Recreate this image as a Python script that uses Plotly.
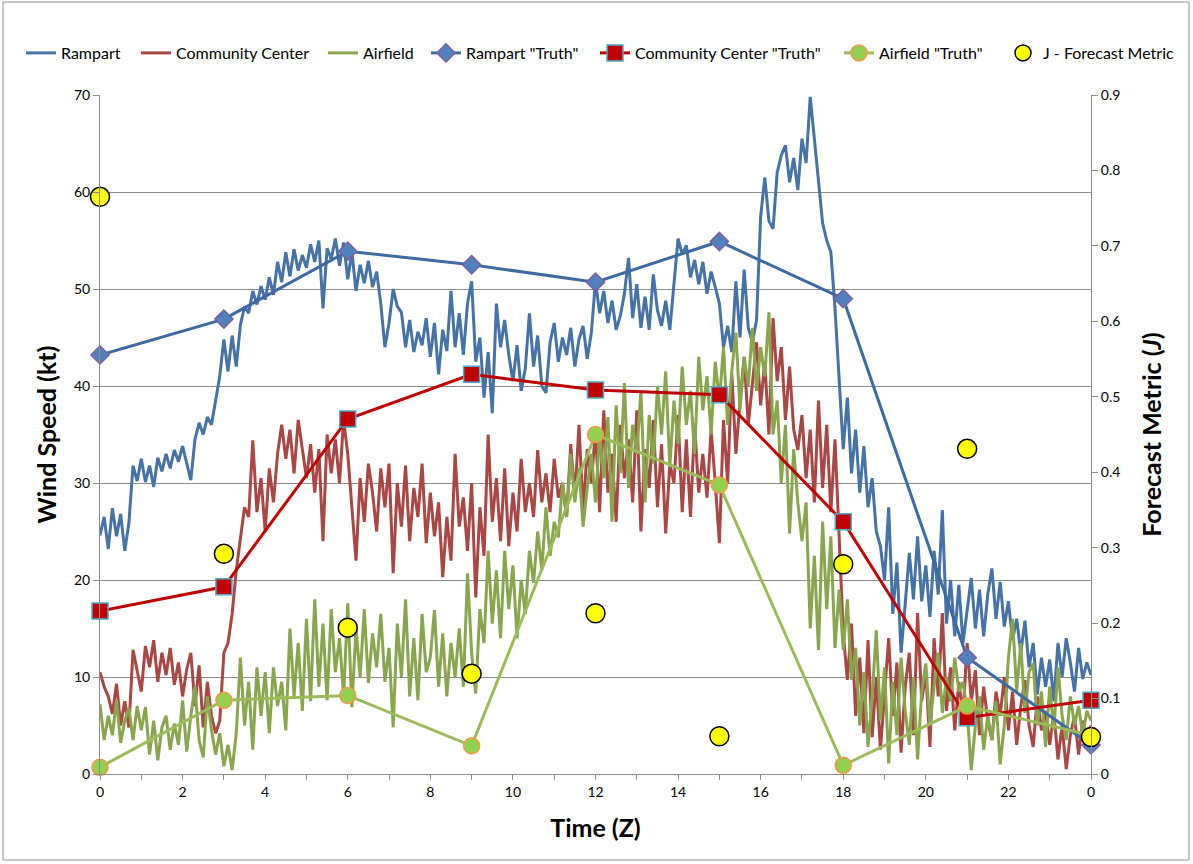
import numpy as np
import plotly.graph_objects as go

# ---------------- data ----------------
# high-frequency observations, one value every 0.1 h from 0 to 24 Z
rampart = [
    24.6, 26.5, 23.2, 27.4, 24.5, 26.8, 23.0, 25.9, 31.8, 30.2,
    32.5, 30.1, 31.8, 29.6, 32.6, 31.2, 33.0, 31.5, 33.4, 32.2,
    33.8, 32.0, 30.3, 34.5, 36.2, 35.0, 36.8, 36.0, 38.5, 41.0,
    44.8, 41.5, 45.2, 42.0, 46.3, 48.2, 47.5, 49.8, 48.4, 50.3,
    48.9, 51.2, 49.4, 52.8, 50.7, 53.8, 51.3, 54.1, 51.9, 53.5,
    52.2, 54.6, 52.8, 55.0, 48.0, 54.2, 53.1, 55.2, 52.4, 54.8,
    51.0, 53.8, 49.8, 52.5, 50.6, 52.9, 50.2, 51.8, 48.5, 44.0,
    46.5, 50.0, 48.2, 47.6, 44.0, 46.8, 43.5, 45.6, 44.2, 47.0,
    43.0, 46.5, 41.2, 45.8, 43.6, 49.8, 44.0, 47.5, 43.2, 48.5,
    50.8, 42.5, 45.0, 38.8, 43.5, 37.2, 48.5, 44.0, 46.8, 43.2,
    40.5, 44.2, 39.5, 41.8, 47.5, 42.0, 45.2, 40.0, 39.3, 44.5,
    46.5, 42.5, 45.0, 43.2, 46.0, 42.0, 44.8, 46.2, 42.8, 45.5,
    50.8, 47.5, 49.8, 46.5, 48.8, 45.8, 47.2, 49.5, 53.2, 47.0,
    50.5, 46.0, 49.2, 45.8, 51.5, 47.8, 46.2, 48.8, 45.8, 50.5,
    55.2, 53.6, 54.5, 51.2, 53.0, 50.5, 52.8, 49.5, 51.8, 50.2,
    48.5, 44.0, 46.2, 43.5, 50.8, 45.0, 52.0, 46.0, 44.5, 46.8,
    57.5, 61.5, 57.0, 56.2, 62.0, 63.8, 64.8, 61.0, 63.5, 60.2,
    65.5, 63.0, 69.8, 65.5, 61.0, 56.8, 55.0, 53.8, 48.0, 40.5,
    33.5, 38.8, 31.0, 35.5, 29.0, 33.8, 27.5, 30.5, 25.0, 23.5,
    20.0, 27.5, 16.5, 21.8, 12.5, 17.5, 22.8, 18.0, 24.5, 17.8,
    21.5, 16.2, 23.0, 18.5, 27.2, 15.5, 20.0, 14.2, 19.5, 13.5,
    17.0, 20.2, 15.0, 19.0, 14.2, 18.5, 21.2, 16.0, 19.8, 15.2,
    17.8, 13.8, 16.0, 12.5, 15.8, 11.0, 13.5, 8.2, 12.0, 9.0,
    11.8, 7.5, 13.5, 10.0, 14.0, 11.5, 8.5, 13.0, 9.8, 11.5,
    10.2,
]
community_center = [
    10.5, 9.0, 8.0, 6.2, 9.3, 5.0, 7.5, 4.8, 12.8, 10.5,
    8.5, 13.2, 11.0, 13.8, 9.5, 12.5, 10.2, 13.0, 9.2, 11.5,
    8.0, 10.8, 12.5, 7.0, 11.2, 4.8, 9.5, 6.0, 4.2, 5.5,
    12.5, 13.5, 16.5, 21.0, 24.5, 27.5, 26.5, 34.4, 27.0, 30.5,
    25.0, 31.5, 28.0, 33.0, 36.0, 32.5, 35.5, 31.0, 36.5, 33.5,
    30.5, 34.0, 29.0, 33.5, 24.0, 35.0, 31.0, 34.5, 30.0, 36.5,
    33.0, 27.5, 22.0, 30.5, 26.0, 32.0, 29.0, 25.0, 31.5, 27.5,
    32.0, 20.7, 30.0, 25.5, 31.8, 24.0, 29.5, 26.5, 32.0, 23.8,
    29.0, 24.5, 28.0, 20.3, 26.5, 22.0, 33.0, 25.5, 28.5, 23.0,
    30.0, 18.2, 27.5, 22.5, 35.0, 26.0, 30.5, 24.0, 31.5, 23.5,
    29.0, 25.0, 32.5, 27.0, 30.0, 26.5, 33.4, 28.0, 31.0, 27.0,
    32.5, 28.5, 30.0, 26.5, 34.0, 28.5, 36.0, 27.0, 33.5, 30.0,
    35.5, 27.0, 37.5, 29.0, 33.0, 26.0, 36.0, 30.5, 34.5, 28.0,
    37.5, 25.0, 33.5, 29.5, 36.5, 27.5, 34.0, 24.8, 32.0, 30.0,
    37.0, 27.0, 34.5, 26.5, 36.0, 29.0, 33.0, 28.5, 35.5, 30.0,
    23.8, 36.5, 30.0, 41.3, 33.0, 38.5, 43.0, 36.0, 40.5, 44.5,
    38.0, 42.5, 35.0, 47.0, 40.5, 44.0, 36.5, 42.0, 35.5, 33.4,
    37.0, 30.5, 35.5, 28.0, 38.5, 29.5, 36.0, 27.0, 34.5, 25.0,
    14.5, 9.7, 15.5, 6.0, 12.0, 4.2, 13.8, 3.8, 10.0, 2.5,
    8.5, 14.0, 6.0, 11.5, 2.2, 9.0, 12.5, 4.0, 16.6, 7.5,
    10.5, 2.8, 14.0, 8.0, 16.6, 6.5, 11.0, 4.5, 9.5, 6.0,
    13.5, 7.5, 10.7, 4.0, 9.0, 5.5, 3.5, 8.5, 6.0, 10.0,
    4.5, 8.5, 3.0, 7.0, 9.7, 5.0, 2.8, 8.0, 4.5, 6.5,
    3.0, 6.3, 1.5, 5.0, 0.5, 4.0, 6.0, 2.0, 5.5, 3.5,
    5.0,
]
airfield = [
    7.2, 3.5, 6.0, 4.0, 7.6, 3.2, 5.5, 6.8, 3.5, 7.0,
    4.5, 6.9, 2.0, 5.5, 1.4, 4.8, 6.0, 2.5, 5.2, 3.0,
    7.6, 2.3, 6.0, 9.0, 3.5, 1.7, 8.0, 4.5, 2.0, 4.2,
    0.8, 3.0, 0.4, 4.2, 12.0, 5.0, 9.5, 2.5, 11.0, 6.0,
    10.5, 4.2, 11.0, 7.0, 9.5, 4.5, 15.0, 8.0, 13.5, 6.5,
    16.0, 7.5, 18.0, 9.0, 15.5, 7.6, 17.0, 10.5, 14.0, 8.0,
    17.6, 6.9, 15.0, 10.0, 17.0, 9.4, 14.5, 11.0, 16.5, 9.5,
    13.0, 4.8, 15.5, 10.0, 18.0, 8.0, 14.0, 7.6, 16.5, 10.5,
    12.0, 16.9, 9.0, 14.5, 8.0, 13.5, 10.0, 15.0, 9.0, 20.7,
    12.5, 8.3, 17.0, 13.5, 23.0, 15.5, 21.0, 14.0, 23.0, 17.0,
    21.5, 14.0, 20.0, 16.5, 23.0, 19.7, 25.0, 21.0, 27.5, 22.5,
    26.0, 24.4, 30.0, 26.5, 33.0, 28.0, 31.5, 25.5, 29.5, 33.0,
    28.0, 35.0, 30.5, 36.8, 26.0, 38.0, 31.0, 40.3, 29.5, 36.0,
    33.0, 39.5, 28.0, 37.0, 32.0, 40.0, 35.0, 41.5, 31.6, 38.5,
    34.0, 42.0, 36.0, 39.5, 33.0, 43.0, 37.5, 41.0, 35.0, 42.5,
    38.5, 44.0, 36.0, 41.5, 45.5, 37.5, 43.0, 40.0, 46.0, 39.5,
    44.0, 41.0, 47.6, 35.0, 38.5, 30.0, 36.0, 24.8, 33.5, 28.0,
    24.0, 28.0, 15.0, 22.5, 12.8, 26.0, 17.0, 24.5, 13.0, 19.0,
    12.8, 18.0, 9.7, 13.0, 5.0, 10.5, 2.8, 8.0, 14.8, 5.5,
    11.0, 1.1, 9.5, 4.0, 12.0, 6.5, 3.0, 10.0, 1.5, 8.5,
    11.4, 5.0, 9.0, 12.5, 6.3, 10.0, 7.5, 12.0, 8.5, 9.5,
    6.5, 0.4, 5.0, 8.0, 2.5, 6.0, 3.5, 7.5, 1.0, 5.0,
    12.0, 16.0, 8.5, 13.5, 6.3, 10.5, 11.4, 5.0, 8.5, 2.8,
    9.0, 4.5, 11.0, 6.0, 3.5, 8.0, 5.0, 7.0, 4.0, 6.5,
    5.5,
]
obs_hours = np.arange(len(rampart)) * 0.1

truth_hours = [0, 3, 6, 9, 12, 15, 18, 21, 24]
rampart_truth = [43.2, 46.9, 53.9, 52.5, 50.7, 54.9, 49.0, 12.0, 3.0]
community_truth = [16.8, 19.3, 36.6, 41.2, 39.6, 39.1, 26.0, 5.8, 7.6]
airfield_truth = [0.7, 7.6, 8.1, 2.9, 35.0, 29.8, 0.9, 7.0, 4.0]
j_metric = [0.765, 0.292, 0.194, 0.133, 0.213, 0.050, 0.278, 0.431, 0.049]

x_tickvals = [0, 2, 4, 6, 8, 10, 12, 14, 16, 18, 20, 22, 24]
x_ticktext = ["0", "2", "4", "6", "8", "10", "12", "14", "16", "18", "20", "22", "0"]

# ---------------- figure ----------------
FONT = "Lato"
GRID = "#8c8c8c"

fig = go.Figure()
fig.add_trace(go.Scatter(x=obs_hours, y=rampart, mode="lines", name="Rampart", legend="legend",
                         line=dict(color="#4572A7", width=3)))
fig.add_trace(go.Scatter(x=obs_hours, y=community_center, mode="lines", name="Community Center",
                         legend="legend2", line=dict(color="#AA4643", width=3)))
fig.add_trace(go.Scatter(x=obs_hours, y=airfield, mode="lines", name="Airfield", legend="legend3",
                         line=dict(color="#89A54E", width=3)))
fig.add_trace(go.Scatter(x=truth_hours, y=rampart_truth, mode="lines+markers", name='Rampart "Truth"',
                         legend="legend4", cliponaxis=False,
                         line=dict(color="#3D6BA1", width=3),
                         marker=dict(symbol="diamond", size=14, color="#4F81BD",
                                     line=dict(color="#7D5FA0", width=1.5))))
fig.add_trace(go.Scatter(x=truth_hours, y=community_truth, mode="lines+markers", name='Community Center "Truth"',
                         legend="legend5", cliponaxis=False,
                         line=dict(color="#C00000", width=3),
                         marker=dict(symbol="square", size=16, color="#C00000",
                                     line=dict(color="#4BACC6", width=1.5))))
fig.add_trace(go.Scatter(x=truth_hours, y=airfield_truth, mode="lines+markers", name='Airfield "Truth"',
                         legend="legend6", cliponaxis=False,
                         line=dict(color="#9BBB59", width=3),
                         marker=dict(symbol="circle", size=16, color="#92D050",
                                     line=dict(color="#F79646", width=1.5))))
fig.add_trace(go.Scatter(x=truth_hours, y=j_metric, mode="markers", name="J - Forecast Metric",
                         legend="legend7", yaxis="y2", cliponaxis=False,
                         marker=dict(symbol="circle", size=19, color="#FFFF00",
                                     line=dict(color="#000000", width=1.5))))

legend_common = dict(orientation="h", xref="container", yref="container",
                     xanchor="left", y=(864 - 53) / 864, yanchor="middle",
                     font=dict(family=FONT, size=16), itemwidth=30, tracegroupgap=0,
                     bgcolor="rgba(0,0,0,0)")
legend_left_px = [21, 136, 323, 426, 595, 839, 1003]
legend_layout = {}
for i, px in enumerate(legend_left_px):
    key = "legend" if i == 0 else f"legend{i + 1}"
    legend_layout[key] = dict(x=px / 1193, **legend_common)

fig.update_layout(
    width=1193, height=864,
    margin=dict(l=100, r=102, t=95, b=90, autoexpand=False),
    paper_bgcolor="white", plot_bgcolor="white",
    font=dict(family=FONT, size=14, color="#000000"),
    showlegend=True,
    **legend_layout,
    xaxis=dict(
        range=[0, 24], tickmode="array", tickvals=x_tickvals, ticktext=x_ticktext,
        showgrid=False, zeroline=False, showline=True, linecolor=GRID, linewidth=1,
        ticks="outside", ticklen=5, tickcolor=GRID,
        minor=dict(ticks="outside", dtick=1, ticklen=5, tickcolor=GRID, showgrid=False),
        tickfont=dict(size=14),
        title=dict(text="<b>Time (Z)</b>", font=dict(size=25), standoff=20),
    ),
    yaxis=dict(
        range=[0, 70], dtick=10, showgrid=True, gridcolor=GRID, gridwidth=1,
        zeroline=False, showline=True, linecolor=GRID, linewidth=1,
        ticks="outside", ticklen=6, tickcolor=GRID, tickfont=dict(size=14),
        title=dict(text="<b>Wind Speed (kt)</b>", font=dict(size=25), standoff=10),
    ),
    yaxis2=dict(
        range=[0, 0.9], dtick=0.1, overlaying="y", side="right", showgrid=False,
        zeroline=False, showline=True, linecolor=GRID, linewidth=1,
        ticks="outside", ticklen=6, tickcolor=GRID, tickfont=dict(size=14),
        title=dict(text="<b>Forecast Metric (<i>J</i>)</b>", font=dict(size=25), standoff=24),
    ),
    shapes=[dict(type="rect", xref="paper", yref="paper",
                 x0=(3 - 100) / 991, x1=(1189 - 100) / 991,
                 y0=(774 - 860) / 679, y1=(774 - 2) / 679,
                 line=dict(color="#8c8c8c", width=1), fillcolor="rgba(0,0,0,0)", layer="below")],
)

fig.write_html("out.html")
